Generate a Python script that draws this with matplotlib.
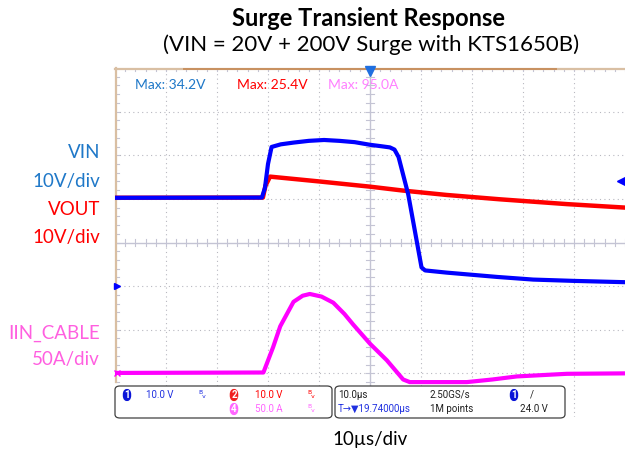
import matplotlib
matplotlib.use("Agg")
import matplotlib.pyplot as plt
from matplotlib.patches import FancyBboxPatch

# time in us, 10 us/div, trigger at 0
vin_t = [-50, -21.2, -20.6, -20.0, -19.3, -17.5, -15.0, -12.0, -9.0, -6.0, -3.0, 0.0, 2.0, 3.9,
         4.8, 5.6, 7.5, 10.1, 10.8, 15.0, 19.0, 25.0, 32.0, 40.0, 50.0]
vin_v = [20.25, 20.3, 22.5, 28.0, 31.9, 32.5, 32.9, 33.3, 33.5, 33.3, 33.0, 32.4, 32.1, 31.8,
         31.3, 29.6, 21.0, 4.3, 3.6, 3.1, 2.7, 2.1, 1.5, 1.2, 0.9]

vout_t = [-50, -21.0, -20.5, -19.6, -10.0, 0.0, 6.5, 15.0, 25.5, 38.6, 50.0]
vout_v = [20.25, 20.3, 23.0, 25.1, 24.0, 22.8, 21.9, 20.9, 19.9, 18.8, 18.0]

iin_t = [-50, -20.9, -19.0, -17.6, -15.0, -13.2, -11.8, -9.5, -7.2, -5.0, -3.3, 0.0,
         3.3, 6.5, 7.8, 12.0, 19.0, 24.0, 28.8, 38.6, 50.0]
iin_a = [0.5, 1.0, 30.0, 54.0, 82.0, 89.0, 91.0, 88.0, 81.0, 68.0, 56.0, 34.0,
         15.0, -7.0, -10.0, -10.0, -10.0, -7.0, -3.5, -0.5, 0.0]

# channel scale (per div) and ground position (div)
vin_scale, vin_gnd = 10.0, -1.0
vout_scale, vout_gnd = 10.0, -1.0
iin_scale, iin_gnd = 50.0, -3.0
trig_level = 24.0

BLUE_TXT = "#1f78c8"
RED = "#ff0000"
PINK_TXT = "#ff5fe0"
BLUE = "#0000ff"
MAGENTA = "#ff00ff"
FRAME = "#d9bfa3"

W, H = 625, 457
fig = plt.figure(figsize=(W / 100, H / 100), dpi=100)
plt.rcParams['font.family'] = ['Lato', 'DejaVu Sans']


def fx(px):
    return px / W


def fy(py):
    return 1 - py / H


# screen: x 115..625 (10 div), y 68..417 (8 div)
ax = fig.add_axes([fx(115), fy(417), fx(625) - fx(115), fy(68) - fy(417)])
ax.set_xlim(-50, 50)
ax.set_ylim(-4, 4)
for s in ax.spines.values():
    s.set_visible(False)
ax.set_xticks([])
ax.set_yticks([])

# grid
for gx in range(-40, 50, 10):
    if gx == 0:
        continue
    ax.axvline(gx, color="#b8b8c0", lw=0.8, ls=(0, (1, 3)), zorder=1)
for gy in range(-3, 4):
    if gy == 0:
        continue
    ax.axhline(gy, color="#b8b8c0", lw=0.8, ls=(0, (1, 3)), zorder=1)
ax.axvline(0, color="#c4c4d4", lw=1.0, zorder=1)
ax.axhline(0, color="#c4c4d4", lw=1.0, zorder=1)
for k in range(-25, 26):
    t = k * 2
    ax.plot([t, t], [-0.07, 0.07], color="#c4c4d4", lw=0.8, zorder=1)
for k in range(-20, 21):
    v = k * 0.2
    ax.plot([-0.8, 0.8], [v, v], color="#c4c4d4", lw=0.8, zorder=1)
    ax.plot([-50, -49.2], [v, v], color="#c4c4d4", lw=0.8, zorder=1)
for k in range(-25, 26):
    t = k * 2
    ax.plot([t, t], [4, 3.92], color="#c4c4d4", lw=0.8, zorder=1)

# frame (left and top)
ax.plot([-49.8, -49.8], [-3.2, 4], color=FRAME, lw=1.6, zorder=2, clip_on=False)
ax.plot([-50, 50], [3.98, 3.98], color=FRAME, lw=1.6, zorder=2, clip_on=False)
ax.plot([-36.5, 36.5], [3.98, 3.98], color="#c89060", lw=1.4, zorder=2, clip_on=False)

# traces
ax.plot(vin_t, [v / vin_scale + vin_gnd for v in vin_v], color=BLUE, lw=3, zorder=5,
        solid_joinstyle="round")
ax.plot(vout_t, [v / vout_scale + vout_gnd for v in vout_v], color=RED, lw=3.2, zorder=4)
ax.plot(iin_t, [a / iin_scale + iin_gnd for a in iin_a], color=MAGENTA, lw=3, zorder=4)

# markers
ax.plot([0], [3.93], marker="v", color="#1f6fe0", ms=7, zorder=6, clip_on=False)
ax.plot([49.2], [trig_level / vin_scale + vin_gnd], marker="<", color=BLUE, ms=6, zorder=6,
        clip_on=False)
ax.plot([-49.6], [vin_gnd], marker=">", color=BLUE, ms=5, zorder=6, clip_on=False)
ax.plot([-49.6], [iin_gnd], marker="x", color=MAGENTA, ms=4, zorder=6, clip_on=False)

# Max readouts
ax.text(-46, 3.6, "Max: 34.2V", color=BLUE_TXT, fontsize=10, va="center", zorder=7)
ax.text(-26, 3.6, "Max: 25.4V", color=RED, fontsize=10, va="center", zorder=7)
ax.text(-8.2, 3.6, "Max: 95.0A", color="#ff80ff", fontsize=10, va="center", zorder=7)

# info bar
bars = [(115, 332), (335, 565)]
for x0, x1 in bars:
    ax.add_patch(FancyBboxPatch((fx(x0), fy(418)), fx(x1) - fx(x0), fy(386) - fy(418),
                                boxstyle="round,pad=0,rounding_size=0.008",
                                transform=fig.transFigure, facecolor="white",
                                edgecolor="#404040", lw=0.9, zorder=8, clip_on=False))

ib = dict(fontsize=7, family=["Roboto", "DejaVu Sans"], va="center",
          transform=fig.transFigure, zorder=9)
r1, r2 = 395, 409


def badge(px, py, n, col):
    fig.text(fx(px), fy(py), n, color="white", ha="center", fontweight="bold",
             bbox=dict(boxstyle="round,pad=0.15,rounding_size=0.6", fc=col, ec="none"), **ib)


badge(127, r1, "1", "#0a14d8")
fig.text(fx(146), fy(r1), "10.0 V", color="#2030e0", **ib)
fig.text(fx(198), fy(r1), "ᴮᵥ", color="#2030e0", **ib)
badge(234, r1, "2", "#f02020")
fig.text(fx(255), fy(r1), "10.0 V", color=RED, **ib)
fig.text(fx(307), fy(r1), "ᴮᵥ", color=RED, **ib)
badge(234, r2, "4", "#ff66ff")
fig.text(fx(255), fy(r2), "50.0 A", color="#ff66ff", **ib)
fig.text(fx(307), fy(r2), "ᴮᵥ", color="#ff66ff", **ib)
fig.text(fx(338), fy(r1), "10.0µs", color="#202020", **ib)
fig.text(fx(430), fy(r1), "2.50GS/s", color="#202020", **ib)
badge(514, r1, "1", "#0a14d8")
fig.text(fx(530), fy(r1), "/", color="#202020", **ib)
fig.text(fx(338), fy(r2), "T→▼19.74000µs", color="#2030e0", **ib)
fig.text(fx(430), fy(r2), "1M points", color="#202020", **ib)
fig.text(fx(520), fy(r2), "24.0 V", color="#202020", **ib)

# titles and labels
fig.text(fx(369), fy(18), "Surge Transient Response", ha="center", va="center",
         fontsize=17, fontweight="bold", color="black")
fig.text(fx(371), fy(45), "(VIN = 20V + 200V Surge with KTS1650B)", ha="center", va="center",
         fontsize=16, color="black")
fig.text(fx(370), fy(440), "10µs/div", ha="center", va="center", fontsize=13.5, color="black")

lab = dict(ha="right", va="center", fontsize=13.5)
fig.text(fx(100), fy(152), "VIN", color=BLUE_TXT, **lab)
fig.text(fx(100), fy(181), "10V/div", color=BLUE_TXT, **lab)
fig.text(fx(100), fy(210), "VOUT", color=RED, **lab)
fig.text(fx(100), fy(237), "10V/div", color=RED, **lab)
fig.text(fx(100), fy(333), "IIN_CABLE", color=PINK_TXT, **lab)
fig.text(fx(100), fy(360), "50A/div", color=PINK_TXT, **lab)

fig.savefig("out.png", dpi=100)
